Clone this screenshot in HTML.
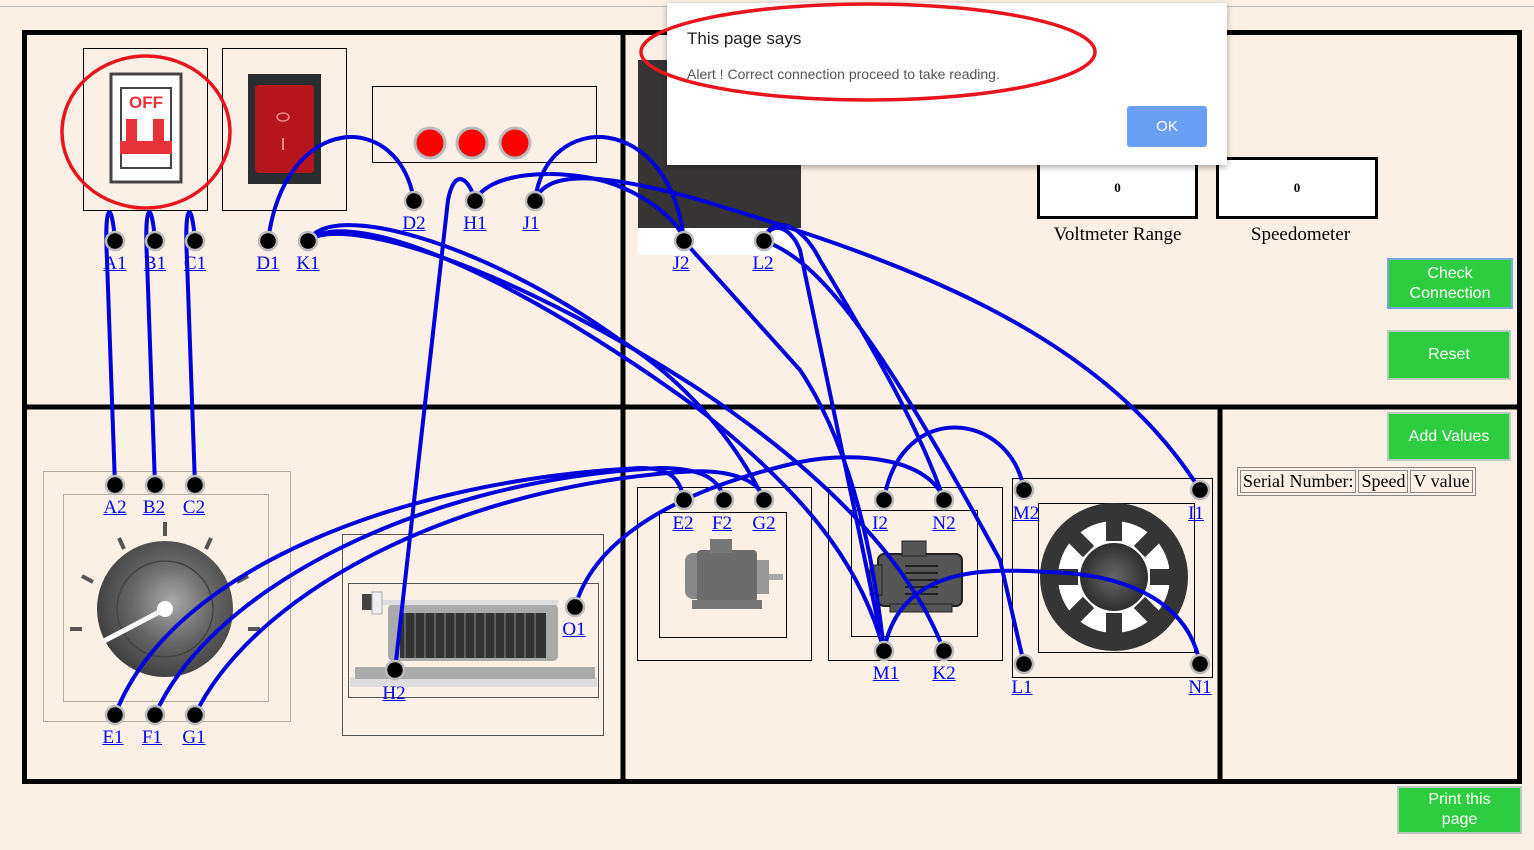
<!DOCTYPE html>
<html><head><style>
body{margin:0;width:1534px;height:850px;background:#faf0e6;overflow:hidden;position:relative;font-family:"Liberation Serif",serif}
.a{position:absolute}
.lbl{position:absolute;color:#0000ee;text-decoration:underline;font-size:19px;transform:translateX(-50%)}
.btn{position:absolute;background:#2ecc40;color:#fff;font-family:"Liberation Sans",sans-serif;font-size:16px;text-align:center;display:flex;align-items:center;justify-content:center;line-height:20px;box-sizing:border-box;border:2px solid #b9c9bd}
.box{position:absolute;border:1px solid #000;box-sizing:border-box}
</style></head><body>
<div class="a" style="left:0;top:6px;width:1534px;height:1px;background:#bbb"></div>
<svg class="a" style="left:0;top:0" width="1534" height="850">
<!-- frame -->
<rect x="24.5" y="32.5" width="1495" height="749" fill="none" stroke="#000" stroke-width="5"/>
<line x1="623" y1="32" x2="623" y2="782" stroke="#000" stroke-width="5"/>
<line x1="22" y1="407" x2="1521" y2="407" stroke="#000" stroke-width="5"/>
<line x1="1220" y1="407" x2="1220" y2="782" stroke="#000" stroke-width="5"/>
<!-- boxes -->
<rect x="83.5" y="48.5" width="124" height="162" fill="none" stroke="#000"/>
<rect x="222.5" y="48.5" width="124" height="162" fill="none" stroke="#000"/>
<rect x="372.5" y="86.5" width="224" height="76" fill="none" stroke="#000"/>
<!-- breaker -->
<rect x="111" y="74" width="70" height="108" fill="#fff" stroke="#444" stroke-width="3"/>
<rect x="121" y="88" width="50" height="80" fill="#fff" stroke="#444" stroke-width="2"/>
<text x="146" y="108" font-family="Liberation Sans" font-weight="bold" font-size="17" fill="#e8323a" text-anchor="middle">OFF</text>
<rect x="126" y="119" width="11" height="24" fill="#e8323a"/><rect x="153" y="119" width="11" height="24" fill="#e8323a"/>
<rect x="120" y="141" width="52" height="13" fill="#e8323a"/>
<!-- rocker -->
<rect x="248" y="74" width="73" height="110" fill="#2a2d2f"/>
<rect x="255" y="85" width="59" height="88" rx="4" fill="#b5161c"/>
<ellipse cx="283" cy="117" rx="6" ry="4" fill="none" stroke="#e88" stroke-width="1.5"/>
<line x1="283" y1="138" x2="283" y2="150" stroke="#e88" stroke-width="2"/>
<!-- lamps -->
<g fill="#f00" stroke="#bbb" stroke-width="3"><circle cx="430" cy="143" r="15"/><circle cx="472" cy="143" r="15"/><circle cx="515" cy="143" r="15"/></g>
<!-- voltmeter image behind dialog -->
<rect x="638" y="60" width="163" height="168" fill="#363434"/>
<rect x="638" y="228" width="163" height="27" fill="#fff"/>
<!-- variac -->
<rect x="43.5" y="471.5" width="247" height="250" fill="none" stroke="#b9aea5"/>
<rect x="63.5" y="494.5" width="205" height="207" fill="none" stroke="#b9aea5"/>
<defs><radialGradient id="g" cx="0.55" cy="0.45" r="0.6"><stop offset="0" stop-color="#aaa"/><stop offset="0.5" stop-color="#666"/><stop offset="1" stop-color="#3c3b3b"/></radialGradient>
<radialGradient id="g2" cx="0.5" cy="0.5" r="0.5"><stop offset="0" stop-color="#666"/><stop offset="1" stop-color="#2f2f2f"/></radialGradient></defs>
<circle cx="165" cy="609" r="68" fill="url(#g)"/>
<circle cx="165" cy="609" r="48" fill="none" stroke="#444" stroke-width="1.5"/>
<line x1="165" y1="609" x2="104" y2="641" stroke="#fff" stroke-width="5"/><circle cx="165" cy="609" r="8" fill="#fff"/>
<g stroke="#555" stroke-width="4"><line x1="165" y1="522" x2="165" y2="536"/><line x1="119" y1="538" x2="124" y2="549"/><line x1="211" y1="538" x2="206" y2="549"/><line x1="82" y1="576" x2="93" y2="582"/><line x1="248" y1="576" x2="237" y2="582"/><line x1="70" y1="629" x2="82" y2="629"/><line x1="248" y1="629" x2="260" y2="629"/></g>
<!-- rheostat -->
<rect x="342.5" y="534.5" width="261" height="201" fill="none" stroke="#555"/>
<rect x="348.5" y="583.5" width="250" height="114" fill="none" stroke="#555"/>
<rect x="350" y="677" width="247" height="10" fill="#ddd"/>
<rect x="355" y="667" width="240" height="12" fill="#aaa"/>
<rect x="388" y="604" width="170" height="57" rx="5" fill="#aaa"/>
<rect x="400" y="613" width="146" height="45" fill="#333"/>
<g stroke="#888" stroke-width="1">
<line x1="405" y1="613" x2="405" y2="658"/><line x1="415" y1="613" x2="415" y2="658"/><line x1="425" y1="613" x2="425" y2="658"/><line x1="435" y1="613" x2="435" y2="658"/><line x1="445" y1="613" x2="445" y2="658"/><line x1="455" y1="613" x2="455" y2="658"/><line x1="465" y1="613" x2="465" y2="658"/><line x1="475" y1="613" x2="475" y2="658"/><line x1="485" y1="613" x2="485" y2="658"/><line x1="495" y1="613" x2="495" y2="658"/><line x1="505" y1="613" x2="505" y2="658"/><line x1="515" y1="613" x2="515" y2="658"/><line x1="525" y1="613" x2="525" y2="658"/><line x1="535" y1="613" x2="535" y2="658"/></g>
<rect x="380" y="600" width="178" height="5" fill="#ddd"/>
<rect x="362" y="594" width="10" height="16" fill="#444"/><rect x="372" y="592" width="10" height="22" fill="#eee" stroke="#aaa"/>
<!-- motor boxes -->
<rect x="637.5" y="487.5" width="174" height="173" fill="none" stroke="#000"/>
<rect x="659.5" y="512.5" width="127" height="125" fill="none" stroke="#000"/>
<rect x="828.5" y="487.5" width="174" height="173" fill="none" stroke="#000"/>
<rect x="851.5" y="510.5" width="126" height="126" fill="none" stroke="#000"/>
<rect x="1012.5" y="478.5" width="200" height="199" fill="none" stroke="#000"/>
<rect x="1038.5" y="503.5" width="156" height="149" fill="none" stroke="#000"/>
<!-- motor1 -->
<rect x="685" y="553" width="30" height="46" rx="8" fill="#888"/>
<rect x="697" y="550" width="60" height="52" rx="4" fill="#6c6c6c"/>
<rect x="710" y="539" width="22" height="14" fill="#777"/>
<rect x="757" y="560" width="12" height="34" fill="#999"/><rect x="769" y="574" width="14" height="6" fill="#aaa"/>
<rect x="692" y="600" width="70" height="9" fill="#777"/>
<!-- motor2 -->
<rect x="867" y="570" width="12" height="10" fill="#555"/>
<rect x="878" y="554" width="84" height="52" rx="6" fill="#555" stroke="#222" stroke-width="2"/>
<rect x="870" y="565" width="12" height="30" fill="#555" stroke="#222"/>
<rect x="902" y="541" width="24" height="15" fill="#555" stroke="#222"/>
<g stroke="#222" stroke-width="2"><line x1="905" y1="566" x2="938" y2="566"/><line x1="905" y1="573" x2="938" y2="573"/><line x1="905" y1="580" x2="938" y2="580"/><line x1="905" y1="587" x2="938" y2="587"/><line x1="905" y1="594" x2="938" y2="594"/></g>
<rect x="890" y="604" width="62" height="8" fill="#555" stroke="#222"/>
<!-- gear -->
<ellipse cx="1114" cy="577" rx="74" ry="74" fill="#353535"/>
<circle cx="1114" cy="577" r="56" fill="#fff"/>
<g fill="#353535"><rect x="1106" y="519" width="16" height="22"/><rect x="1106" y="613" width="16" height="22"/><rect x="1056" y="569" width="22" height="16"/><rect x="1150" y="569" width="22" height="16"/>
<rect x="1106" y="519" width="16" height="22" transform="rotate(45 1114 577)"/><rect x="1106" y="519" width="16" height="22" transform="rotate(-45 1114 577)"/><rect x="1106" y="613" width="16" height="22" transform="rotate(45 1114 577)"/><rect x="1106" y="613" width="16" height="22" transform="rotate(-45 1114 577)"/></g>
<circle cx="1114" cy="577" r="34" fill="url(#g2)"/>
<!-- wires -->
<g fill="none" stroke="#0000dd" stroke-width="4" stroke-linecap="round">
<path d="M115,241 C112,200 104,200 107,260 L115,485"/>
<path d="M155,241 C152,200 144,200 147,260 L155,485"/>
<path d="M195,241 C192,200 184,200 187,260 L195,485"/>
<path d="M268,241 C285,110 400,110 414,201"/>
<path d="M475,201 C470,180 455,165 448,200 L395,670"/>
<path d="M535,201 C545,110 670,110 684,241"/>
<path d="M475,201 C490,170 560,170 600,180 C640,190 680,220 684,241 L 800,370 C 840,430 870,520 884,651"/>
<path d="M535,201 C545,170 600,172 700,200 C900,260 1100,330 1200,490"/>
<path d="M308,241 C330,200 480,240 620,340 C700,390 745,460 764,500"/>
<path d="M308,241 C340,210 480,250 700,410 C800,490 860,560 884,651"/>
<path d="M308,241 C340,215 500,260 700,390 C820,470 910,560 944,651"/>
<path d="M764,241 C770,220 790,225 800,250 L884,651"/>
<path d="M764,241 C770,215 800,220 820,260 C880,360 920,430 944,500"/>
<path d="M764,241 C820,260 880,340 1000,560 L1024,664"/>
<path d="M884,500 C900,400 1010,410 1024,490"/>
<path d="M884,651 C900,560 1000,570 1050,572 C1140,575 1190,610 1200,664"/>
<path d="M575,607 C600,520 720,480 800,462 C860,450 930,460 944,500"/>
<path d="M115,715 C170,570 400,480 640,468 C670,468 680,478 684,500"/>
<path d="M155,715 C210,590 420,480 660,468 C700,468 720,478 724,500"/>
<path d="M195,715 C250,600 440,490 680,472 C730,468 760,480 764,500"/>
</g>
<!-- terminals -->
<g fill="#000" stroke="#bbb" stroke-width="2.5">
<circle cx="115" cy="241" r="9"/><circle cx="155" cy="241" r="9"/><circle cx="195" cy="241" r="9"/><circle cx="268" cy="241" r="9"/><circle cx="308" cy="241" r="9"/>
<circle cx="414" cy="201" r="9"/><circle cx="475" cy="201" r="9"/><circle cx="535" cy="201" r="9"/><circle cx="684" cy="241" r="9"/><circle cx="764" cy="241" r="9"/>
<circle cx="115" cy="485" r="9"/><circle cx="155" cy="485" r="9"/><circle cx="195" cy="485" r="9"/><circle cx="115" cy="715" r="9"/><circle cx="155" cy="715" r="9"/><circle cx="195" cy="715" r="9"/>
<circle cx="395" cy="670" r="9"/><circle cx="575" cy="607" r="9"/>
<circle cx="684" cy="500" r="9"/><circle cx="724" cy="500" r="9"/><circle cx="764" cy="500" r="9"/><circle cx="884" cy="500" r="9"/><circle cx="944" cy="500" r="9"/><circle cx="884" cy="651" r="9"/><circle cx="944" cy="651" r="9"/>
<circle cx="1024" cy="490" r="9"/><circle cx="1200" cy="490" r="9"/><circle cx="1024" cy="664" r="9"/><circle cx="1200" cy="664" r="9"/>
</g>
</svg>
<span class="lbl" style="left:115px;top:253px">A1</span><span class="lbl" style="left:155px;top:253px">B1</span><span class="lbl" style="left:195px;top:253px">C1</span><span class="lbl" style="left:268px;top:253px">D1</span><span class="lbl" style="left:308px;top:253px">K1</span>
<span class="lbl" style="left:414px;top:213px">D2</span><span class="lbl" style="left:475px;top:213px">H1</span><span class="lbl" style="left:531px;top:213px">J1</span><span class="lbl" style="left:681px;top:253px">J2</span><span class="lbl" style="left:763px;top:253px">L2</span>
<span class="lbl" style="left:115px;top:497px">A2</span><span class="lbl" style="left:154px;top:497px">B2</span><span class="lbl" style="left:194px;top:497px">C2</span>
<span class="lbl" style="left:113px;top:727px">E1</span><span class="lbl" style="left:152px;top:727px">F1</span><span class="lbl" style="left:194px;top:727px">G1</span>
<span class="lbl" style="left:394px;top:683px">H2</span><span class="lbl" style="left:574px;top:619px">O1</span>
<span class="lbl" style="left:683px;top:513px">E2</span><span class="lbl" style="left:722px;top:513px">F2</span><span class="lbl" style="left:764px;top:513px">G2</span><span class="lbl" style="left:880px;top:513px">I2</span><span class="lbl" style="left:944px;top:513px">N2</span>
<span class="lbl" style="left:886px;top:663px">M1</span><span class="lbl" style="left:944px;top:663px">K2</span>
<span class="lbl" style="left:1026px;top:503px">M2</span><span class="lbl" style="left:1196px;top:503px">I1</span><span class="lbl" style="left:1022px;top:677px">L1</span><span class="lbl" style="left:1200px;top:677px">N1</span>
<!-- meters -->
<div class="a" style="left:1037px;top:157px;width:161px;height:62px;border:3px solid #000;box-sizing:border-box;background:#fff;text-align:center;line-height:56px;font-size:13px;font-weight:bold">0</div>
<div class="a" style="left:1216px;top:157px;width:162px;height:62px;border:3px solid #000;box-sizing:border-box;background:#fff;text-align:center;line-height:56px;font-size:13px;font-weight:bold">0</div>
<div class="a" style="left:1037px;top:224px;width:161px;text-align:center;font-size:19px">Voltmeter Range</div>
<div class="a" style="left:1220px;top:224px;width:161px;text-align:center;font-size:19px">Speedometer</div>
<div class="btn" style="left:1387px;top:258px;width:126px;height:51px;border-color:#7aa6e0">Check<br>Connection</div>
<div class="btn" style="left:1387px;top:330px;width:124px;height:50px">Reset</div>
<div class="btn" style="left:1387px;top:412px;width:124px;height:49px">Add Values</div>
<div class="btn" style="left:1397px;top:786px;width:125px;height:48px">Print this<br>page</div>
<table class="a" style="left:1237px;top:467px;border:1px solid #888;border-spacing:2px;font-size:18px;font-family:'Liberation Serif',serif"><tr><td style="border:1px solid #888;padding:0 2px">Serial Number:</td><td style="border:1px solid #888;padding:0 2px">Speed</td><td style="border:1px solid #888;padding:0 2px">V value</td></tr></table>
<!-- dialog -->
<div class="a" style="left:667px;top:3px;width:560px;height:162px;background:#fff;box-shadow:0 2px 6px rgba(0,0,0,.35);font-family:'Liberation Sans',sans-serif">
<div class="a" style="left:20px;top:26px;font-size:17px;color:#222">This page says</div>
<div class="a" style="left:20px;top:63px;font-size:14px;color:#555">Alert ! Correct connection proceed to take reading.</div>
<div class="a" style="left:460px;top:103px;width:80px;height:41px;background:#6b9ff5;border-radius:3px;color:#fff;font-size:15px;text-align:center;line-height:41px">OK</div>
</div>
<svg class="a" style="left:0;top:0" width="1534" height="850">
<ellipse cx="868" cy="52" rx="227" ry="48" fill="none" stroke="#e8141e" stroke-width="3.5"/>
<ellipse cx="146" cy="132" rx="84" ry="76" fill="none" stroke="#e8141e" stroke-width="3.5"/>
</svg>
</body></html>
